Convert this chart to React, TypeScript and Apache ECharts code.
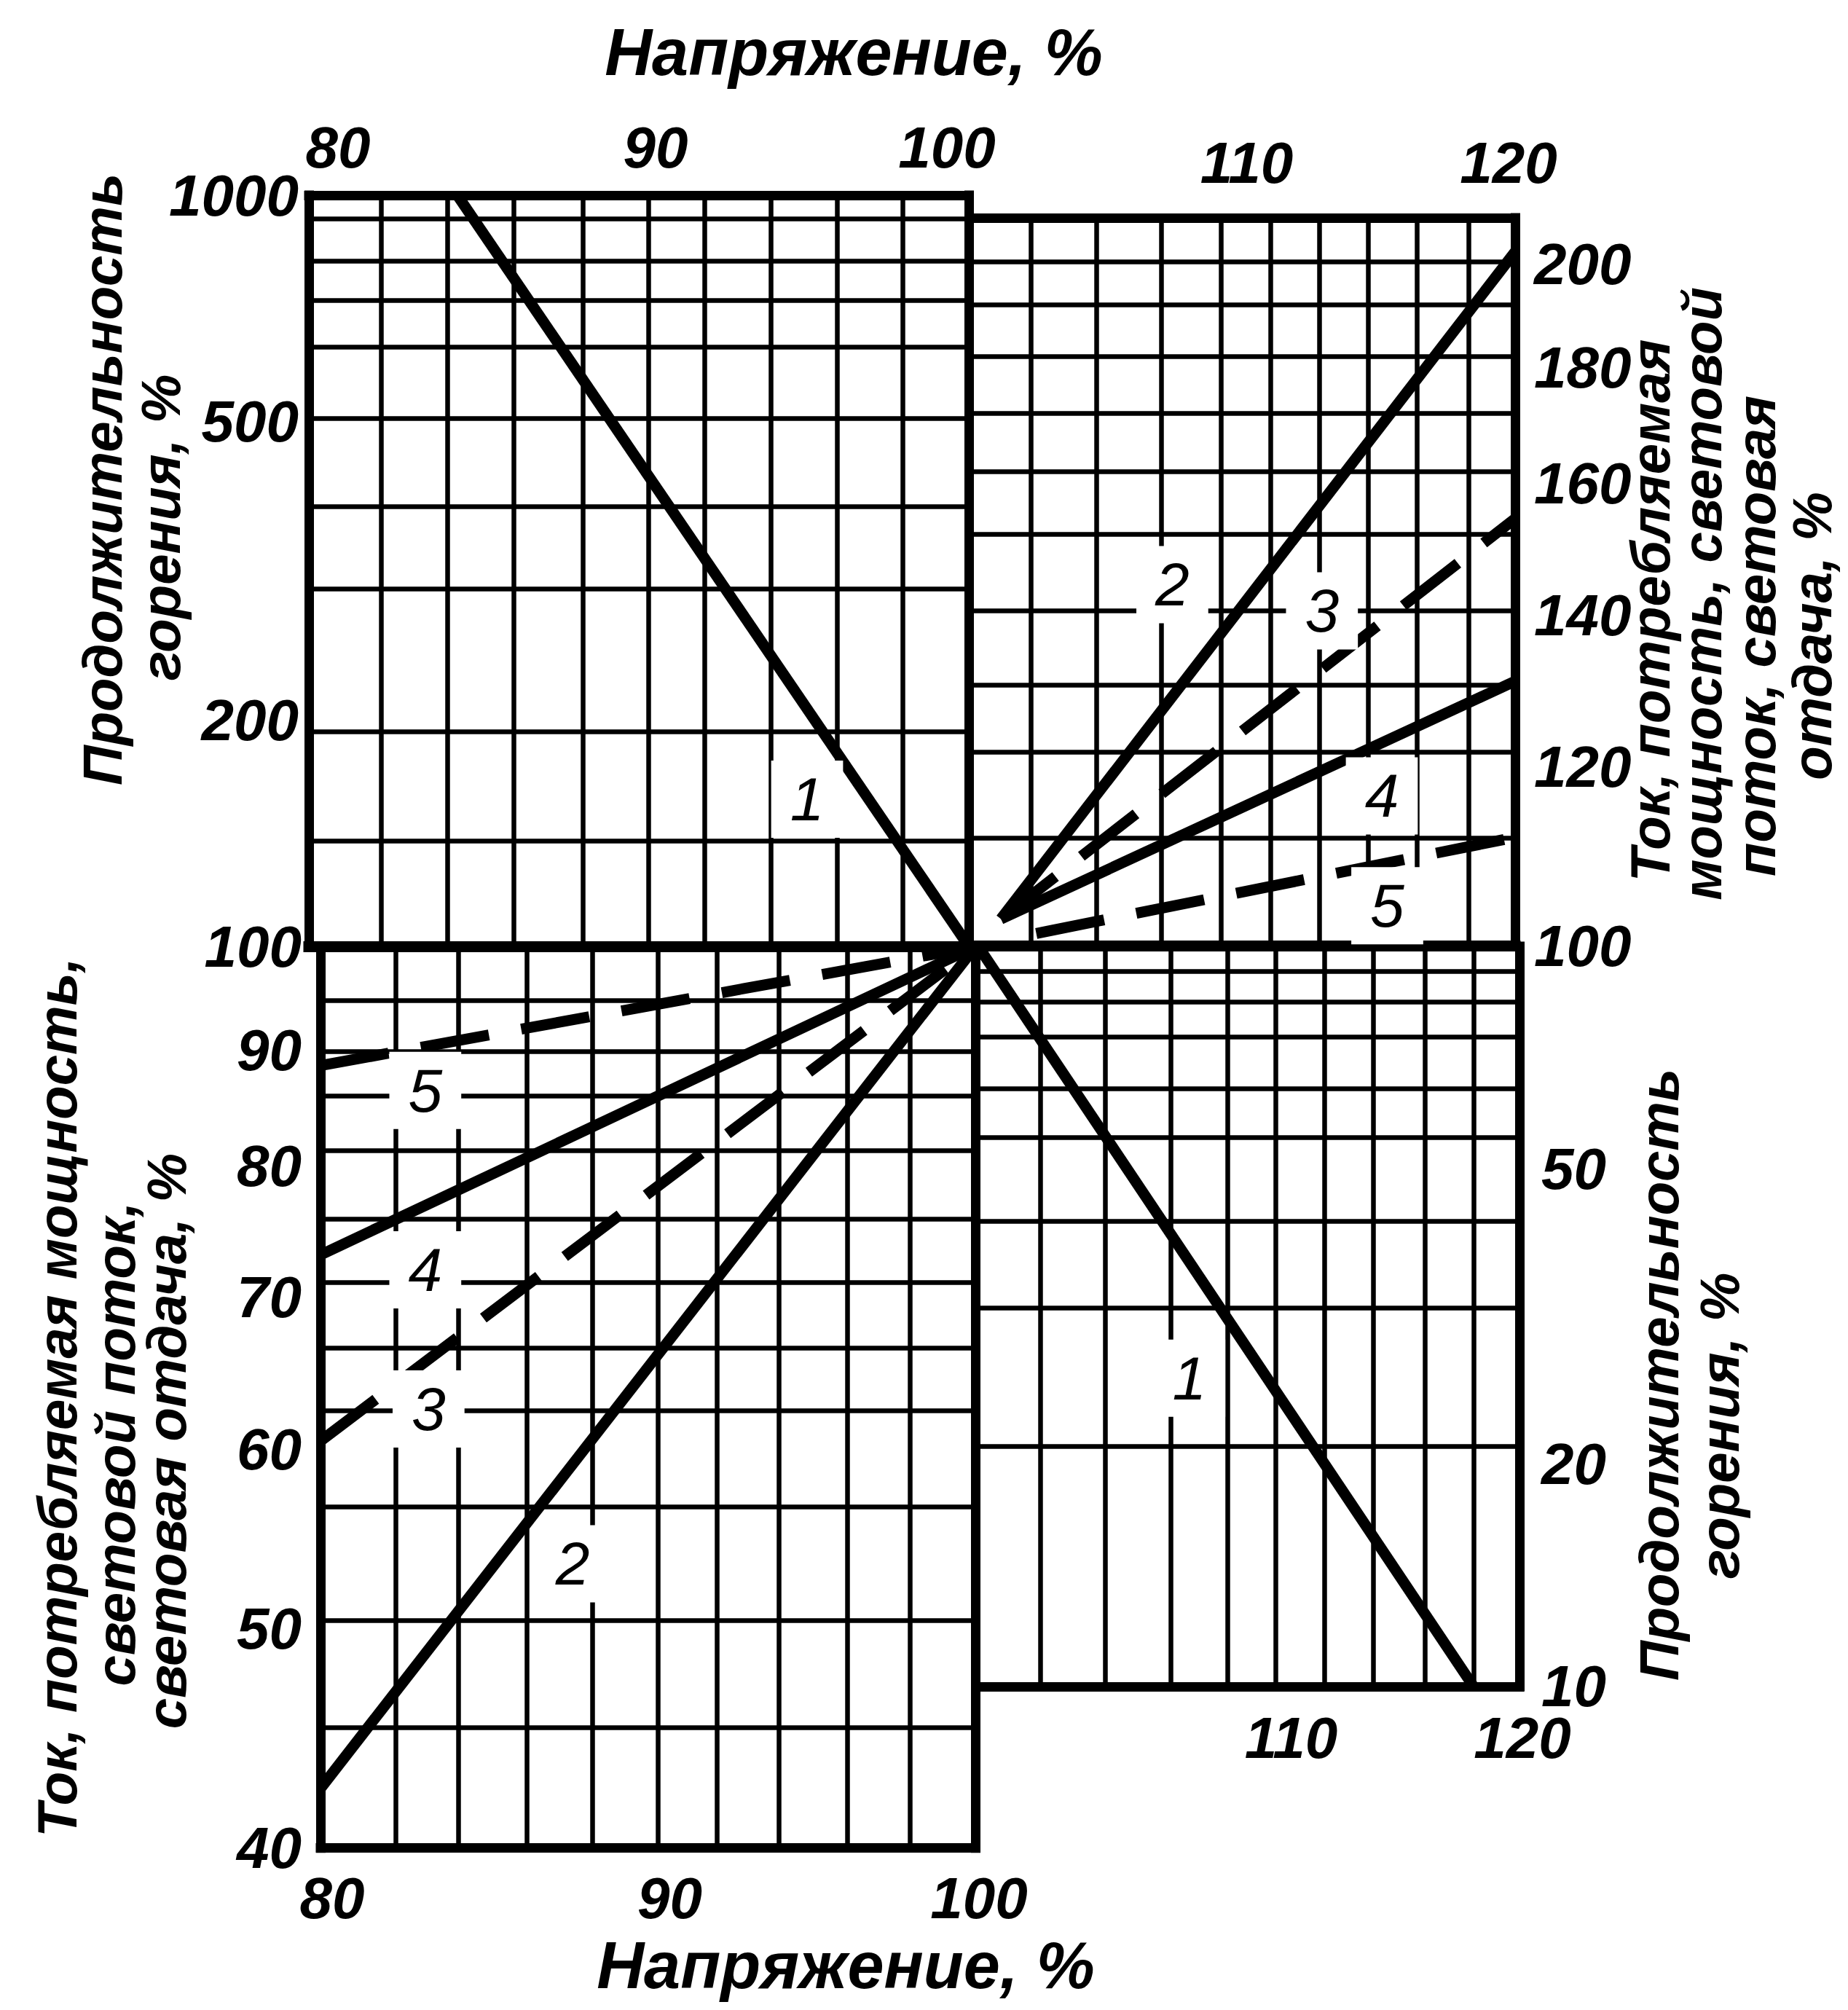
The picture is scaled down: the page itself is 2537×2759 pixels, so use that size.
import React, { useEffect, useRef } from "react";
import * as echarts from "echarts";

// ---------------- tick labels ----------------
const voltageTopLeftTicks = [80, 90, 100];
const voltageTopRightTicks = [110, 120];
const voltageBottomLeftTicks = [80, 90, 100];
const voltageBottomRightTicks = [110, 120];
const lifeUpperTicks = [200, 500, 1000];
const lifeLowerTicks = [10, 20, 50];
const powerLowerTicks = [40, 50, 60, 70, 80, 90, 100];
const powerUpperTicks = [100, 120, 140, 160, 180, 200];

// ---------------- grid lines (as drawn in the picture) ----------------
const gridP1X = [82.2, 84.2, 86.2, 88.3, 90.3, 92.0, 94.0, 96.0, 98.0];
const gridP1Y = [138, 193, 299, 385, 505, 628, 725, 818, 931];
const gridP2X = [102.2, 104.6, 107.0, 109.2, 111.0, 112.8, 114.6, 116.4, 118.3];
const gridP2Y = [111.6, 121.8, 130.4, 140.6, 152.0, 162.0, 171.9, 182.0, 191.9, 200.4];
const gridP3X = [82.3, 84.2, 86.3, 88.3, 90.3, 92.1, 94.0, 96.1, 98.0];
const gridP3Y = [94.7, 89.9, 85.9, 81.3, 75.8, 71.1, 66.5, 62.4, 56.6, 50.4, 45.2];
const gridP4X = [102.3, 104.7, 107.1, 109.2, 111.0, 112.8, 114.6, 116.5, 118.3];
const gridP4Y = [92.6, 84.2, 75.5, 64.3, 55.2, 42.5, 32.5, 21.1];

// ---------------- curves ----------------
// 1 — life (Продолжительность горения)
const curve1Upper = [[84.5, 1000], [100, 100]];
const curve1Lower = [[100, 100], [118.3, 10]];
// 2 — solid
const curve2Lower = [[80, 42.5], [100, 100]];
const curve2Upper = [[101.1, 102.8], [120, 202.5]];
// 3 — dashed
const curve3Lower = [[80, 60.5], [100, 100]];
const curve3Upper = [[101.1, 102.8], [120, 154.4]];
// 4 — solid
const curve4Lower = [[80, 73.1], [100, 100]];
const curve4Upper = [[101.1, 102.8], [120, 130.9]];
// 5 — dashed
const curve5Lower = [[80, 88.6], [100, 100]];
const curve5Upper = [[102.4, 101.3], [120, 111.7]];

// curve numbers
const numbersP1 = [[95.1, 157, "1"]];
const numbersP2 = [[107.4, 144.4, "2"], [112.9, 140.6, "3"], [115.1, 116.5, "4"], [115.3, 104.2, "5"]];
const numbersP3 = [[87.7, 53.4, "2"], [83.3, 62.5, "3"], [83.2, 72.0, "4"], [83.2, 86.4, "5"]];
const numbersP4 = [[107.8, 26.1, "1"]];

// ---------------- styles ----------------
const BLACK = "#000";
const FONT = "'Liberation Sans', Arial, sans-serif";
const GRID_W = 6.5;
const BORDER_W = 13;
const MAIN_W = 15;
const CURVE_W = 15;
const DASH = [95, 45];

const tickFont = {
  fontFamily: FONT,
  fontStyle: "italic",
  fontWeight: "bold",
  fontSize: 80,
  color: BLACK,
};

// horizontal nudges of the hand-lettered voltage labels (px)
const topLeftNudge: Record<number, number> = { 80: 40, 90: 23, 100: -30 };
const topRightNudge: Record<number, number> = { 110: 5, 120: -9 };
const bottomLeftNudge: Record<number, number> = { 80: 16, 90: 30, 100: 5 };
const bottomRightNudge: Record<number, number> = { 110: 58, 120: 4 };

type Pt = [number, number];

function seg(a: Pt, b: Pt, width: number, cap = "butt") {
  return [
    { coord: a, lineStyle: { color: BLACK, width, type: "solid", cap, opacity: 1 } },
    { coord: b },
  ];
}

function frame(
  idx: number,
  xr: Pt,
  yr: Pt,
  xs: number[],
  ys: number[],
  borders: [Pt, Pt, number][]
) {
  const lines: any[] = [];
  xs.forEach((x) => lines.push(seg([x, yr[0]], [x, yr[1]], GRID_W)));
  ys.forEach((y) => lines.push(seg([xr[0], y], [xr[1], y], GRID_W)));
  borders.forEach(([a, b, w]) => lines.push(seg(a, b, w, "square")));
  return {
    type: "line",
    xAxisIndex: idx,
    yAxisIndex: idx,
    data: [],
    silent: true,
    z: 1,
    markLine: {
      silent: true,
      symbol: ["none", "none"],
      label: { show: false },
      animation: false,
      data: lines,
    },
  };
}

function curve(idx: number, data: number[][], dashed: boolean) {
  return {
    type: "line",
    xAxisIndex: idx,
    yAxisIndex: idx,
    data,
    symbol: "none",
    showSymbol: false,
    silent: true,
    z: 3,
    lineStyle: { color: BLACK, width: CURVE_W, type: dashed ? DASH : "solid", cap: "butt", opacity: 1 },
  };
}

function numbers(idx: number, data: any[]) {
  return {
    type: "scatter",
    xAxisIndex: idx,
    yAxisIndex: idx,
    data,
    symbol: "circle",
    symbolSize: 2,
    silent: true,
    z: 6,
    itemStyle: { color: "#ffffff", opacity: 1 },
    label: {
      show: true,
      position: "inside",
      formatter: (p: any) => p.value[2],
      fontFamily: FONT,
      fontStyle: "italic",
      fontWeight: "normal",
      fontSize: 84,
      color: "#000000",
      opacity: 1,
      textBorderWidth: 0,
      backgroundColor: "#ffffff",
      padding: [14, 26, 8, 26],
    },
  };
}

function xAxis(
  idx: number,
  min: number,
  max: number,
  position: string,
  ticks: number[],
  margin: number,
  nudge: Record<number, number>
) {
  const rich: Record<string, any> = {};
  ticks.forEach((t) => {
    const s = nudge[t] || 0;
    rich["v" + t] = {
      ...tickFont,
      padding: s >= 0 ? [0, 0, 0, 2 * s] : [0, -2 * s, 0, 0],
    };
  });
  return {
    gridIndex: idx,
    type: "value",
    min,
    max,
    position,
    axisLine: { show: false },
    axisTick: { show: false },
    splitLine: { show: false },
    axisLabel: {
      ...tickFont,
      margin,
      customValues: ticks,
      rich,
      formatter: (v: number) => {
        const r = Math.round(v);
        return `{v${r}|${r}}`;
      },
    },
  };
}

function yAxis(idx: number, min: number, max: number, position: string, ticks: number[], margin: number, lift: number) {
  return {
    gridIndex: idx,
    type: "log",
    logBase: 10,
    min,
    max,
    position,
    axisLine: { show: false },
    axisTick: { show: false },
    splitLine: { show: false },
    axisLabel: {
      ...tickFont,
      margin,
      customValues: ticks,
      padding: [0, 0, lift, 0],
      formatter: (v: number) => String(Math.round(v)),
    },
  };
}

function title(text: string, x: number, y: number, vertical: boolean) {
  const size = vertical ? 76 : 90;
  return {
    type: "text",
    x,
    y,
    rotation: vertical ? Math.PI / 2 : 0,
    silent: true,
    style: {
      text,
      fill: BLACK,
      font: `italic bold ${size}px 'Liberation Sans', Arial, sans-serif`,
      align: "center",
      verticalAlign: "middle",
      textAlign: "center",
      textVerticalAlign: "middle",
    },
  };
}

const P1Y: Pt = [99.98, 1000.2];
const P2Y: Pt = [99.98, 209.6];
const P3Y: Pt = [39.99, 100.02];
const P4Y: Pt = [9.998, 100.02];

const option = {
  animation: false,
  backgroundColor: "#fff",
  grid: [
    { left: 424, top: 268, width: 906, height: 1031 },
    { left: 1333, top: 299, width: 747, height: 1000 },
    { left: 440, top: 1299, width: 899, height: 1238 },
    { left: 1343, top: 1299, width: 743, height: 1016 },
  ],
  xAxis: [
    xAxis(0, 80, 100, "top", voltageTopLeftTicks, 26, topLeftNudge),
    xAxis(1, 100, 120, "top", voltageTopRightTicks, 36, topRightNudge),
    xAxis(2, 80, 100, "bottom", voltageBottomLeftTicks, 28, bottomLeftNudge),
    xAxis(3, 100, 120, "bottom", voltageBottomRightTicks, 30, bottomRightNudge),
  ],
  yAxis: [
    yAxis(0, P1Y[0], P1Y[1], "left", lifeUpperTicks, 14, 0),
    yAxis(1, P2Y[0], P2Y[1], "right", powerUpperTicks, 26, 30),
    yAxis(2, P3Y[0], P3Y[1], "left", powerLowerTicks, 26, 24),
    yAxis(3, P4Y[0], P4Y[1], "right", lifeLowerTicks, 30, 64),
  ],
  series: [
    frame(0, [80, 100], [100, 1000], gridP1X, gridP1Y, [
      [[80, 1000], [100, 1000], BORDER_W],
      [[80, 100], [80, 1000], BORDER_W],
      [[100, 100], [100, 1000], BORDER_W],
      [[80, 100], [100, 100], MAIN_W],
    ]),
    frame(1, [100, 120], [100, 209.6], gridP2X, gridP2Y, [
      [[100, 209.6], [120, 209.6], BORDER_W],
      [[120, 100], [120, 209.6], BORDER_W],
      [[100, 100], [120, 100], MAIN_W],
    ]),
    frame(2, [80, 100], [40, 100], gridP3X, gridP3Y, [
      [[80, 40], [80, 100], BORDER_W],
      [[80, 40], [100, 40], BORDER_W],
      [[100, 40], [100, 100], BORDER_W],
    ]),
    frame(3, [100, 120], [10, 100], gridP4X, gridP4Y, [
      [[120, 10], [120, 100], BORDER_W],
      [[100, 10], [120, 10], BORDER_W],
    ]),
    curve(0, curve1Upper, false),
    curve(3, curve1Lower, false),
    curve(2, curve2Lower, false),
    curve(1, curve2Upper, false),
    curve(2, curve3Lower, true),
    curve(1, curve3Upper, true),
    curve(2, curve4Lower, false),
    curve(1, curve4Upper, false),
    curve(2, curve5Lower, true),
    curve(1, curve5Upper, true),
    numbers(0, numbersP1),
    numbers(1, numbersP2),
    numbers(2, numbersP3),
    numbers(3, numbersP4),
  ],
  graphic: [
    title("Напряжение, %", 1172, 72, false),
    title("Напряжение, %", 1161, 2698, false),
    title("Продолжительность", 140, 658, true),
    title("горения, %", 220, 724, true),
    title("Ток, потребляемая мощность,", 78, 1918, true),
    title("световой поток,", 158, 1982, true),
    title("световая отдача, %", 228, 1978, true),
    title("Ток, потребляемая", 2265, 838, true),
    title("мощность, световой", 2336, 815, true),
    title("поток, световая", 2410, 873, true),
    title("отдача, %", 2487, 873, true),
    title("Продолжительность", 2277, 1887, true),
    title("горения, %", 2360, 1957, true),
  ],
};

export default function App() {
  const ref = useRef<HTMLDivElement>(null);
  useEffect(() => {
    if (!ref.current) return;
    const chart = echarts.init(ref.current, null, { renderer: "svg" });
    chart.setOption(option as any);
    return () => chart.dispose();
  }, []);
  return (
    <div
      ref={ref}
      style={{ position: "absolute", left: 0, top: 0, width: 2537, height: 2759, background: "#fff" }}
    />
  );
}
